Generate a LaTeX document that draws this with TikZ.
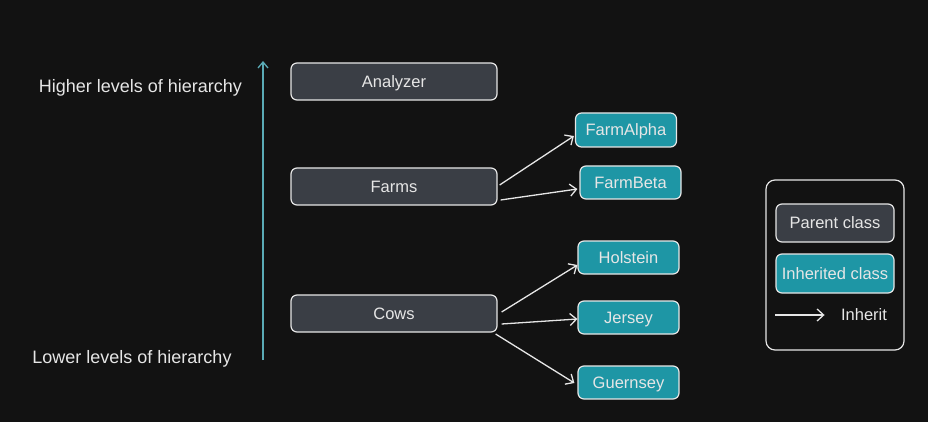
\documentclass[tikz,border=0pt]{standalone}
\usepackage{fontspec}
\setmainfont{Liberation Sans}
\usepackage{xcolor}
\usetikzlibrary{arrows.meta}
\definecolor{bgdark}{HTML}{121212}
\definecolor{parentgray}{HTML}{3A3E45}
\definecolor{childteal}{HTML}{1E96A5}
\definecolor{axisteal}{HTML}{5AAAB5}
\definecolor{lineoff}{HTML}{E6E6E6}

\begin{document}
\begin{tikzpicture}[x=1pt, y=-1pt, font=\fontsize{16.5}{19}\selectfont, text=lineoff, text depth=0pt,
		box/.style={draw=lineoff, line width=1.2pt, rounded corners=6pt, inner sep=0pt},
		parent/.style={box, fill=parentgray, minimum width=206pt, minimum height=37pt},
		child/.style={box, fill=childteal, minimum width=101pt, minimum height=33pt},
		level/.style={font=\fontsize{18}{21}\selectfont},
		inherit/.style={draw=lineoff, line width=1.3pt, -{Straight Barb[length=6.5pt,width=12pt,line width=1.3pt]}}]
		\fill [bgdark] (0,0) rectangle (928,422);
		\useasboundingbox (0,0) rectangle (928,422);
		% hierarchy axis
		\coordinate (low) at (263,360);
		\coordinate (high) at (263,61);
		\draw [axisteal, line width=1.3pt, -{Straight Barb[length=6pt,width=10pt,line width=1.3pt]}] (low) -- (high);
		\node [level] (higher) at (140.5,86) {Higher levels of hierarchy};
		\node [level] (lower) at (132,357) {Lower levels of hierarchy};
		% classes
		\node [parent] (analyzer) at (394,81.5) {Analyzer};
		\node [parent] (farms) at (394,186.5) {Farms};
		\node [parent] (cows) at (394,313.5) {Cows};
		\node [child, minimum height=34pt] (alpha) at (626,130) {FarmAlpha};
		\node [child] (beta) at (630.5,182.5) {FarmBeta};
		\node [child] (holstein) at (628.5,257.5) {Holstein};
		\node [child] (jersey) at (628.5,317.5) {Jersey};
		\node [child] (guernsey) at (628.5,382.5) {Guernsey};
		% inheritance
		\draw [inherit] ([xshift=2pt,yshift=1.5pt]farms.east) -- ([xshift=-1pt,yshift=-6pt]alpha.west);
		\draw [inherit] ([xshift=3pt,yshift=-13.5pt]farms.east) -- ([xshift=-2pt,yshift=-6.5pt]beta.west);
		\draw [inherit] ([xshift=4pt,yshift=1.5pt]cows.east) -- ([yshift=-7.5pt]holstein.west);
		\draw [inherit] ([xshift=4pt,yshift=-10.5pt]cows.east) -- ([yshift=-1.5pt]jersey.west);
		\draw [inherit] ([xshift=-2pt,yshift=-20.5pt]cows.east) -- ([xshift=-3pt,yshift=-0.5pt]guernsey.west);
		% legend
		\node [box, fill=none, minimum width=138pt, minimum height=170pt, rounded corners=9pt] (legend) at (835,265) {};
		\node [parent, minimum width=118pt, minimum height=38pt] (parentkey) at (835,223) {Parent class};
		\node [child, minimum width=118pt, minimum height=39pt] (childkey) at (835,273.5) {Inherited class};
		\coordinate (keystart) at (775,315);
		\node (inheritkey) at (864,315) {Inherit};
		\draw [inherit] (keystart) -- ([xshift=-13pt]inheritkey.west);
	\end{tikzpicture}
\end{document}
